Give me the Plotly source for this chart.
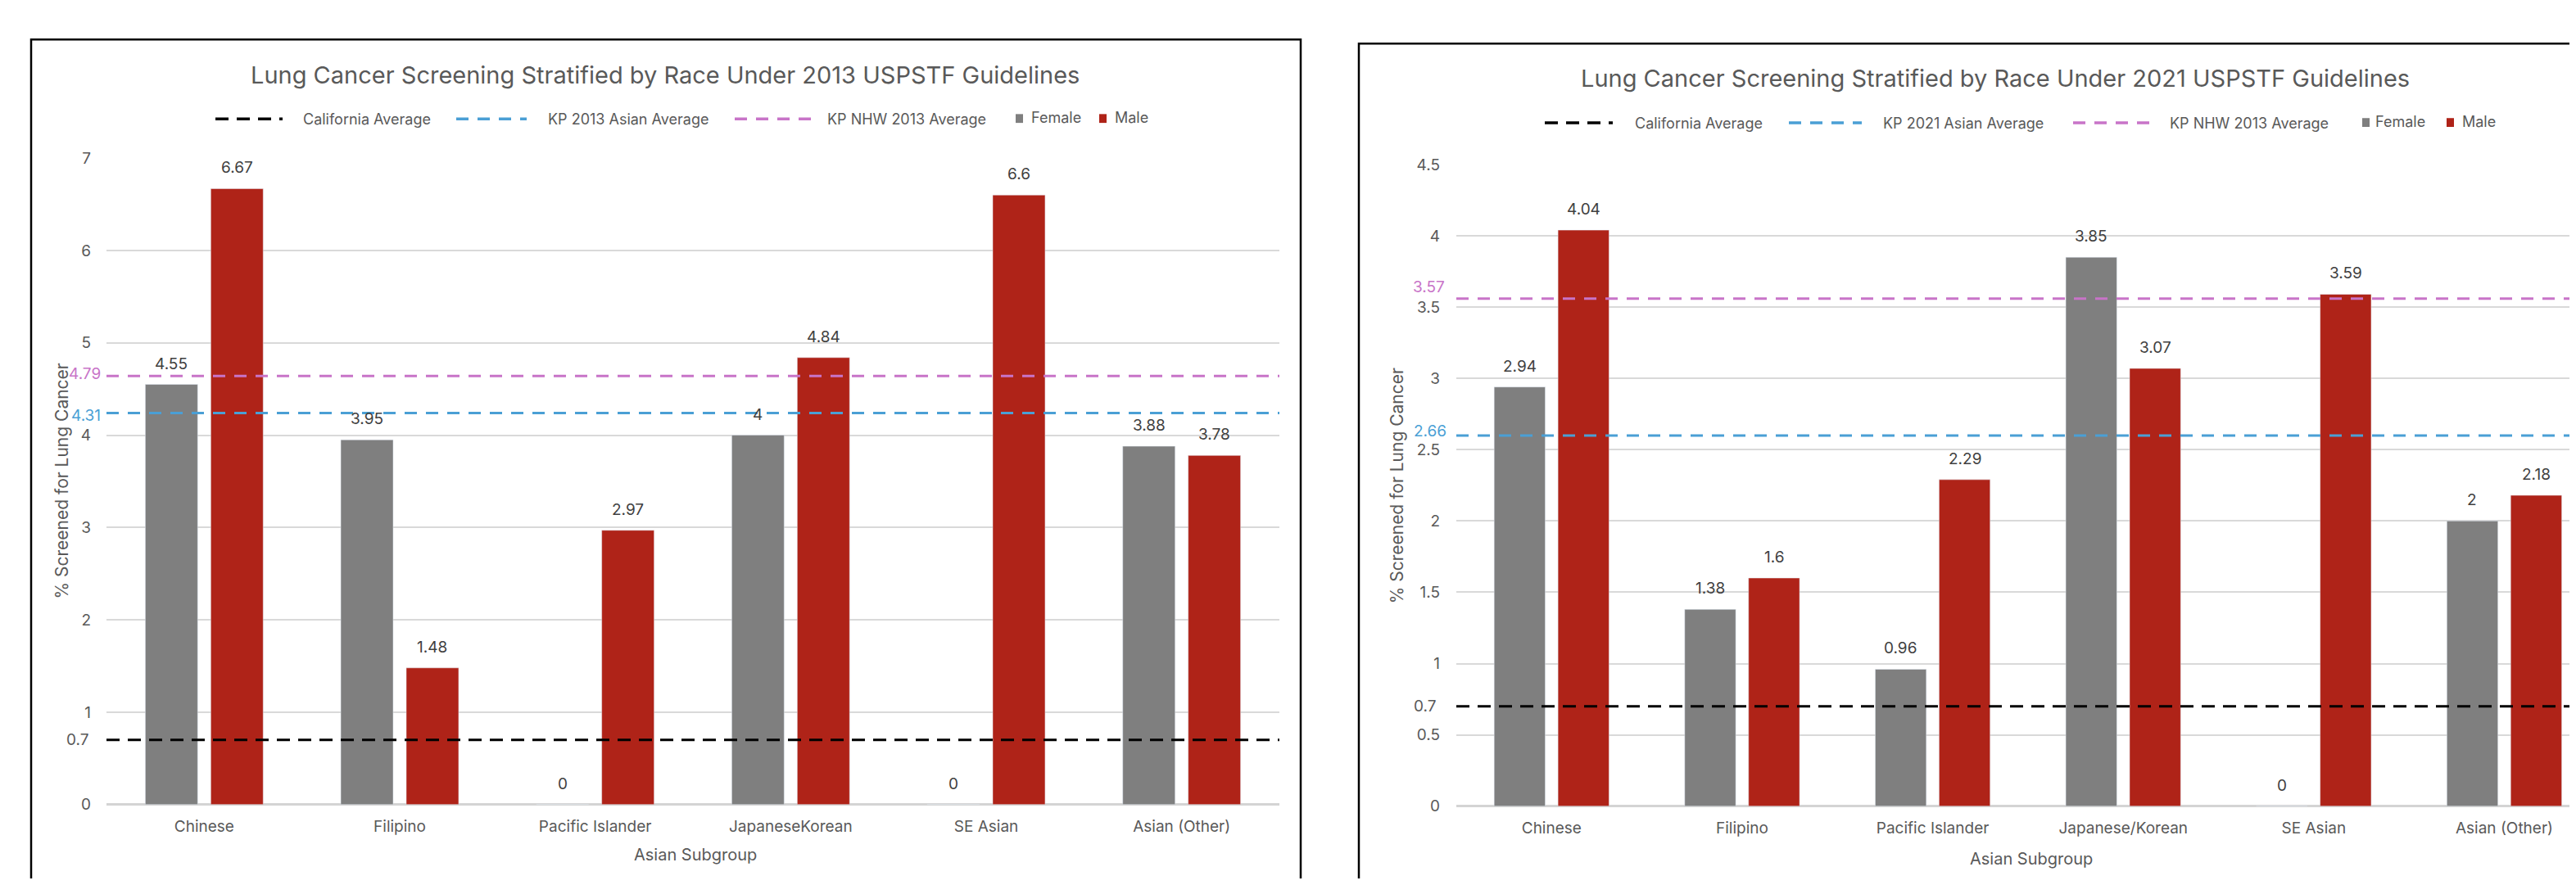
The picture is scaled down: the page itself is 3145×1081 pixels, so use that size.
import plotly.graph_objects as go

# ---------------- data ----------------
categories_2013 = ["Chinese", "Filipino", "Pacific Islander", "JapaneseKorean", "SE Asian", "Asian (Other)"]
female_2013 = [4.55, 3.95, 0, 4, 0, 3.88]
male_2013 = [6.67, 1.48, 2.97, 4.84, 6.6, 3.78]

categories_2021 = ["Chinese", "Filipino", "Pacific Islander", "Japanese/Korean", "SE Asian", "Asian (Other)"]
female_2021 = [2.94, 1.38, 0.96, 3.85, 0, 2]
male_2021 = [4.04, 1.6, 2.29, 3.07, 3.59, 2.18]

ref_names_2013 = ["California Average", "KP 2013 Asian Average", "KP NHW 2013 Average"]
ref_levels_2013 = [0.7, 4.24, 4.64]          # heights at which the dashed lines are drawn
ref_labels_2013 = ["0.7", "4.31", "4.79"]    # the labels printed beside them

ref_names_2021 = ["California Average", "KP 2021 Asian Average", "KP NHW 2013 Average"]
ref_levels_2021 = [0.7, 2.6, 3.56]
ref_labels_2021 = ["0.7", "2.66", "3.57"]

series_names = ["Female", "Male"]

titles = ["Lung Cancer Screening Stratified by Race Under 2013 USPSTF Guidelines",
          "Lung Cancer Screening Stratified by Race Under 2021 USPSTF Guidelines"]
y_title = "% Screened for Lung Cancer"
x_title = "Asian Subgroup"

# ---------------- style ----------------
PAGE_W, PAGE_H = 3145, 1081
BODY = 8                                    # default page margin around the figure
W, H = PAGE_W - 2 * BODY, PAGE_H - 2 * BODY
FONT = "Inter"
BAR_COLORS = ["#7F7F7F", "#AF2318"]
REF_COLORS = ["#000000", "#4A9FD5", "#C874C8"]
REF_DASH = ["16px,10px", "15px,11px", "15px,11px"]
TXT = "#595959"
LBL = "#404040"
BARGAP = 0.33
BARGROUPGAP = 0.2


def fx(p):
    return (p - BODY) / W


def fy(p):
    return 1 - (p - BODY) / H


panels = [
    dict(cats=categories_2013, values=[female_2013, male_2013],
         names=ref_names_2013, levels=ref_levels_2013, labels=ref_labels_2013,
         title=titles[0], box=(38, 1588, 38),
         plot=(130, 1562, 186, 993), yrange=[0, 7], dtick=1, xrange=[-0.5, 5.5],
         title_xy=(812, 82),
         leg_y=137, leg_lines=[(263, 345, 368), (557, 643, 667), (897, 990, 1008)],
         leg_bars=[(1240, 1257), (1342, 1359)],
         ytitle_xy=(75, 589), xtitle_xy=(849, 1056),
         ref_lab_x=[110, 125, 125], ref_lab_shift=[0, -3, 3], ystandoff=18),
    dict(cats=categories_2021, values=[female_2021, male_2021],
         names=ref_names_2021, levels=ref_levels_2021, labels=ref_labels_2021,
         title=titles[1], box=(1659, 3260, 43),
         plot=(1778, PAGE_W, 194, 995), yrange=[0, 4.5], dtick=0.5,
         xrange=[-0.5, -0.5 + (PAGE_W - 1778) / 234.0],
         title_xy=(2436, 86),
         leg_y=142, leg_lines=[(1886, 1969, 1994), (2184, 2273, 2297), (2531, 2625, 2647)],
         leg_bars=[(2884, 2898), (2987, 3004)],
         ytitle_xy=(1705, 595), xtitle_xy=(2480, 1061),
         ref_lab_x=[1755, 1768, 1766], ref_lab_shift=[0, 5, 14], ystandoff=19),
]

fig = go.Figure()
shapes = []
annotations = []
layout = dict(
    width=W, height=H, margin=dict(l=0, r=0, t=0, b=0, pad=0),
    paper_bgcolor="white", plot_bgcolor="white",
    barmode="group", bargap=BARGAP, bargroupgap=BARGROUPGAP,
    font=dict(family=FONT, size=19, color=TXT),
    showlegend=False,
)

for i, p in enumerate(panels):
    sfx = "" if i == 0 else str(i + 1)
    xa, ya = "x" + sfx, "y" + sfx
    x0, x1, y0, y1 = p["plot"]

    for name, vals, col in zip(series_names, p["values"], BAR_COLORS):
        fig.add_trace(go.Bar(x=p["cats"], y=vals, name=name, marker_color=col,
                             xaxis=xa, yaxis=ya, hoverinfo="skip"))

    layout["xaxis" + sfx] = dict(
        domain=[fx(x0), min(1.0, fx(x1))], anchor=ya, type="category", range=p["xrange"],
        showgrid=False, showline=False, zeroline=False, ticks="",
        tickfont=dict(family=FONT, size=19, color=TXT), ticklabelstandoff=13)
    layout["yaxis" + sfx] = dict(
        domain=[fy(y1), fy(y0)], anchor=xa, range=p["yrange"], dtick=p["dtick"],
        showgrid=True, gridcolor="#D9D9D9", gridwidth=1.5,
        zeroline=True, zerolinecolor="#D4D4D4", zerolinewidth=2.5,
        showline=False, ticks="",
        tickfont=dict(family=FONT, size=19, color=TXT), ticklabelstandoff=p["ystandoff"])

    # panel frame
    bx0, bx1, by0 = p["box"]
    shapes.append(dict(type="rect", xref="paper", yref="paper",
                       x0=fx(bx0), x1=fx(bx1), y0=-0.2, y1=fy(by0),
                       line=dict(color="black", width=2.5), fillcolor="rgba(0,0,0,0)"))

    # dashed reference lines and their labels
    for k, (lev, lab, col, dash) in enumerate(zip(p["levels"], p["labels"], REF_COLORS, REF_DASH)):
        shapes.append(dict(type="line", xref=xa + " domain", yref=ya, x0=0, x1=1, y0=lev, y1=lev,
                           line=dict(color=col, width=3, dash=dash), layer="above"))
        annotations.append(dict(text=lab, xref="paper", yref=ya, x=fx(p["ref_lab_x"][k]), y=lev,
                                xanchor="right", yanchor="middle", yshift=p["ref_lab_shift"][k],
                                showarrow=False,
                                font=dict(family=FONT, size=19, color=TXT if k == 0 else col)))

    # value labels above the bars
    plot_px = min(x1, PAGE_W) - x0
    cat_px = plot_px / (p["xrange"][1] - p["xrange"][0])
    off = (1 - BARGAP) * cat_px / 4
    for vals, sgn in zip(p["values"], (-1, 1)):
        for c, v in zip(p["cats"], vals):
            annotations.append(dict(text=f"{v:g}", xref=xa, yref=ya, x=c, y=v,
                                    xshift=sgn * off, yshift=12, xanchor="center", yanchor="bottom",
                                    showarrow=False, font=dict(family=FONT, size=19, color=LBL)))

    # legend (drawn in the chart's own style: long dashes for the averages, small squares for bars)
    ly = fy(p["leg_y"])
    for name, col, dash, (sx0, sx1, tx) in zip(p["names"], REF_COLORS, REF_DASH, p["leg_lines"]):
        shapes.append(dict(type="line", xref="paper", yref="paper", x0=fx(sx0), x1=fx(sx1),
                           y0=ly, y1=ly, line=dict(color=col, width=3.5, dash=dash)))
        annotations.append(dict(text=name, xref="paper", yref="paper", x=fx(tx), y=ly,
                                xanchor="left", yanchor="middle", showarrow=False,
                                font=dict(family=FONT, size=18, color=TXT)))
    for name, col, (sqx, tx) in zip(series_names, BAR_COLORS, p["leg_bars"]):
        shapes.append(dict(type="rect", xref="paper", yref="paper",
                           x0=fx(sqx), x1=fx(sqx + 9), y0=fy(p["leg_y"] + 5), y1=fy(p["leg_y"] - 6),
                           line=dict(width=0), fillcolor=col))
        annotations.append(dict(text=name, xref="paper", yref="paper", x=fx(tx), y=fy(p["leg_y"] - 2),
                                xanchor="left", yanchor="middle", showarrow=False,
                                font=dict(family=FONT, size=18, color=TXT)))

    # chart title and axis titles
    annotations.append(dict(text=p["title"], xref="paper", yref="paper",
                            x=fx(p["title_xy"][0]), y=fy(p["title_xy"][1]),
                            xanchor="center", yanchor="middle", showarrow=False,
                            font=dict(family=FONT, size=29, color=TXT)))
    annotations.append(dict(text=y_title, xref="paper", yref="paper",
                            x=fx(p["ytitle_xy"][0]), y=fy(p["ytitle_xy"][1]), textangle=-90,
                            xanchor="center", yanchor="middle", showarrow=False,
                            font=dict(family=FONT, size=21, color=TXT)))
    annotations.append(dict(text=x_title, xref="paper", yref="paper",
                            x=fx(p["xtitle_xy"][0]), y=fy(p["xtitle_xy"][1]),
                            xanchor="center", yanchor="middle", showarrow=False,
                            font=dict(family=FONT, size=20, color=TXT)))

layout["shapes"] = shapes
layout["annotations"] = annotations
fig.update_layout(**layout)

fig.write_html("out.html", config={"displayModeBar": False})
